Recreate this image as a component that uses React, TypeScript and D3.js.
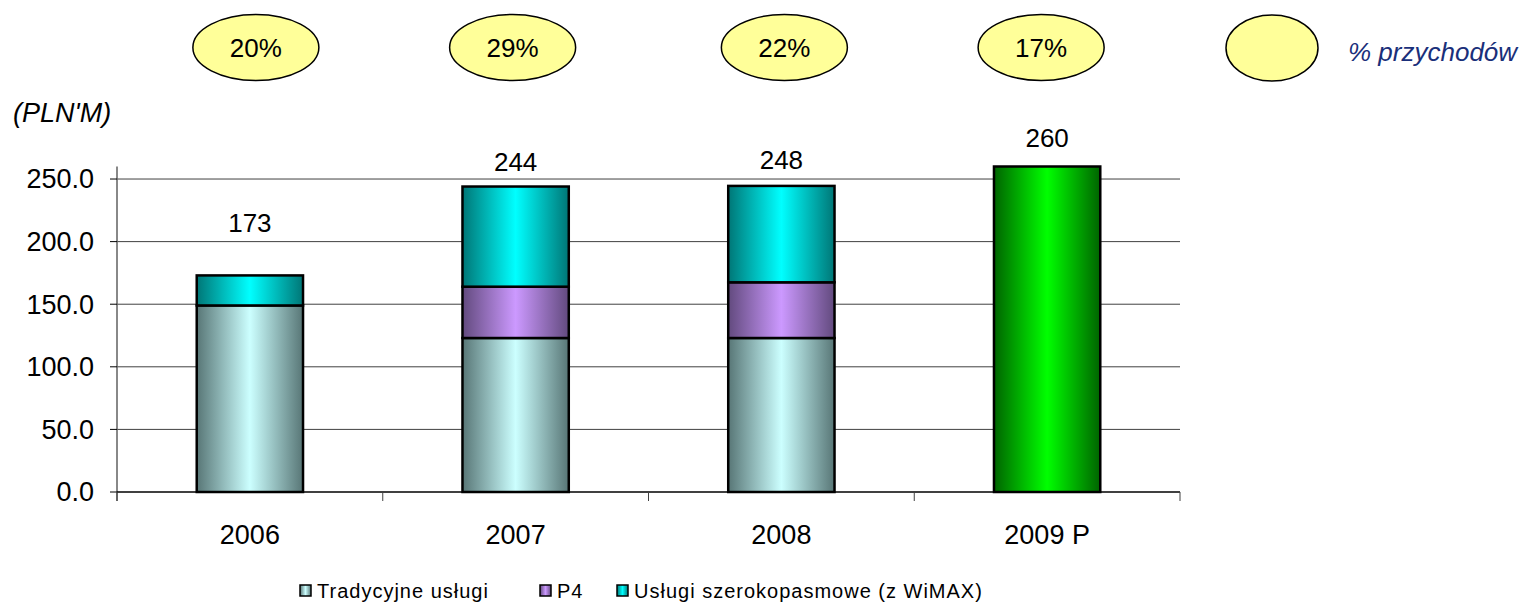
import React from "react";
import * as d3 from "d3";

const years = ["2006", "2007", "2008", "2009 P"];
const tradycyjne = [149, 123, 123, 0];
const p4 = [0, 41, 44.5, 0];
const szerokopasmowe = [24, 80, 77, 0];
const prognoza = [0, 0, 0, 260];
const totalLabels = ["173", "244", "248", "260"];
const shares = ["20%", "29%", "22%", "17%"];
const yTicks = [0, 50, 100, 150, 200, 250];
const legendItems = ["Tradycyjne usługi", "P4", "Usługi szerokopasmowe (z WiMAX)"];

const W = 1524;
const H = 603;
const FONT = "'Liberation Sans', Arial, Helvetica, sans-serif";

const grads = {
  trad: ["#587676", "#ccffff"],
  p4: ["#624a7e", "#cc99ff"],
  broad: ["#007676", "#00ffff"],
  green: ["#006400", "#00ff00"],
};

export default function App() {
  const x = d3
    .scaleBand<string>()
    .domain(years)
    .range([117, 1180])
    .paddingInner(0.6)
    .paddingOuter(0.3);
  const y = d3.scaleLinear().domain([0, 260]).range([492, 166.5]);
  const bw = x.bandwidth();

  const seriesDefs = [
    { key: "trad", values: tradycyjne },
    { key: "p4", values: p4 },
    { key: "broad", values: szerokopasmowe },
    { key: "green", values: prognoza },
  ];
  const stackData = years.map((yr, i) => ({
    year: yr,
    trad: tradycyjne[i],
    p4: p4[i],
    broad: szerokopasmowe[i],
    green: prognoza[i],
  }));
  const stacked = d3.stack<any>().keys(seriesDefs.map((s) => s.key))(stackData);
  const totals = stackData.map((d) => d.trad + d.p4 + d.broad + d.green);

  const labelOffsets = [-53, -25, -26, -29];
  const ellipseShift = [6, -3, 3, -6];
  const step = x.step();
  const boundaries = d3.range(years.length + 1).map((i) => 117 + i * step);

  return (
    <svg width={W} height={H} style={{ position: "absolute", left: 0, top: 0, background: "#fff" }}>
      <defs>
        {Object.entries(grads).map(([k, [dark, light]]) => (
          <linearGradient key={k} id={`g-${k}`} x1="0" x2="1" y1="0" y2="0">
            <stop offset="0" stopColor={dark} />
            <stop offset="0.5" stopColor={light} />
            <stop offset="1" stopColor={dark} />
          </linearGradient>
        ))}
      </defs>
      <rect x={0} y={0} width={W} height={H} fill="#fff" />

      {yTicks.filter((t) => t > 0).map((t) => (
        <line key={t} x1={117} x2={1180} y1={y(t)} y2={y(t)} stroke="#404040" strokeWidth={1} />
      ))}
      <line x1={117} x2={117} y1={y(260)} y2={501} stroke="#606060" strokeWidth={1.5} />
      {yTicks.map((t) => (
        <g key={t}>
          <line x1={110} x2={117} y1={y(t)} y2={y(t)} stroke="#000" strokeWidth={1} />
          <text x={94} y={y(t)} dy="0.35em" textAnchor="end" fontFamily={FONT} fontSize={27} fill="#000">
            {t.toFixed(1)}
          </text>
        </g>
      ))}

      {stacked.map((layer) =>
        layer.map((seg, i) =>
          seg[1] - seg[0] > 0 ? (
            <rect
              key={layer.key + i}
              x={x(years[i])}
              y={y(seg[1])}
              width={bw}
              height={y(seg[0]) - y(seg[1])}
              fill={`url(#g-${layer.key})`}
              stroke="#000"
              strokeWidth={2.5}
            />
          ) : null
        )
      )}

      <line x1={117} x2={1180} y1={492} y2={492} stroke="#000" strokeWidth={1.5} />
      {boundaries.map((b, i) => (
        <line key={i} x1={b} x2={b} y1={492} y2={501} stroke="#404040" strokeWidth={1} />
      ))}
      {years.map((yr) => (
        <text
          key={yr}
          x={(x(yr) as number) + bw / 2}
          y={535}
          dy="0.35em"
          textAnchor="middle"
          fontFamily={FONT}
          fontSize={27}
          fill="#000"
        >
          {yr}
        </text>
      ))}

      {years.map((yr, i) => (
        <text
          key={yr}
          x={(x(yr) as number) + bw / 2}
          y={y(totals[i]) + labelOffsets[i]}
          dy="0.35em"
          textAnchor="middle"
          fontFamily={FONT}
          fontSize={26}
          fill="#000"
        >
          {totalLabels[i]}
        </text>
      ))}

      {years.map((yr, i) => {
        const cx = (x(yr) as number) + bw / 2 + ellipseShift[i];
        return (
          <g key={yr}>
            <ellipse cx={cx} cy={47.5} rx={63} ry={33} fill="#ffff99" stroke="#000" strokeWidth={1.5} />
            <text x={cx} y={48} dy="0.35em" textAnchor="middle" fontFamily={FONT} fontSize={26} fill="#000">
              {shares[i]}
            </text>
          </g>
        );
      })}
      <ellipse cx={1272} cy={48} rx={46} ry={33} fill="#ffff99" stroke="#000" strokeWidth={1.5} />
      <text x={1348} y={52} dy="0.35em" fontFamily={FONT} fontSize={26} fontStyle="italic" fill="#1a2f7a">
        % przychodów
      </text>

      <text x={13} y={113} dy="0.35em" fontFamily={FONT} fontSize={27} fontStyle="italic" fill="#000">
        (PLN'M)
      </text>

      {legendItems.map((item, i) => {
        const lx = [300, 540, 617][i];
        const key = ["trad", "p4", "broad"][i];
        return (
          <g key={item}>
            <rect x={lx} y={585} width={11} height={11} fill={`url(#g-${key})`} stroke="#000" strokeWidth={1.5} />
            <text x={lx + 17} y={591} dy="0.35em" fontFamily={FONT} fontSize={20} letterSpacing={1} fill="#000">
              {item}
            </text>
          </g>
        );
      })}
    </svg>
  );
}
